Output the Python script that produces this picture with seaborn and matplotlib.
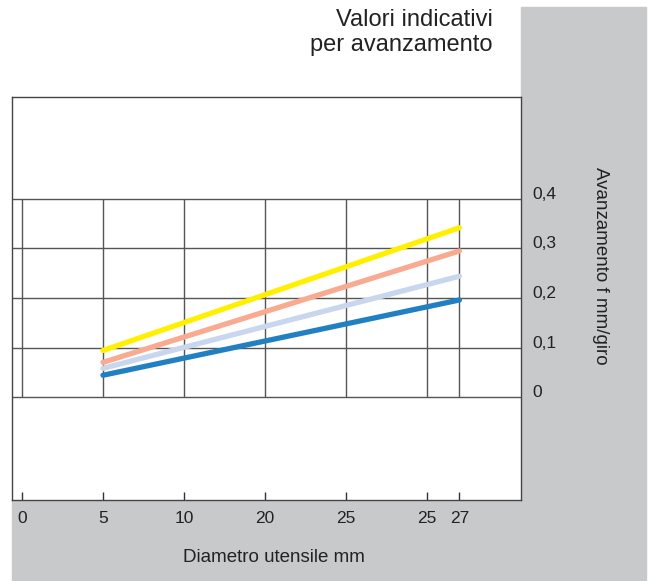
import matplotlib
matplotlib.use('Agg')
import matplotlib.pyplot as plt
import seaborn as sns
import pandas as pd
from matplotlib.patches import Rectangle

# tick labels along the diameter axis and their slot positions
x_labels = ['0', '5', '10', '20', '25', '25', '27']
x_slots = [0, 1, 2, 3, 4, 5, 5.4]
y_ticks = [0, 0.1, 0.2, 0.3, 0.4]
y_labels = ['0', '0,1', '0,2', '0,3', '0,4']

# feed lines: start (d=5) and end (d=27)
line_x = [1, 5.4]
yellow = [0.094, 0.342]
salmon = [0.070, 0.295]
light_blue = [0.058, 0.244]
blue = [0.044, 0.196]

series = {'giallo': yellow, 'salmone': salmon, 'azzurro': light_blue, 'blu': blue}
colors = {'giallo': '#FFF000', 'salmone': '#F8AB90', 'azzurro': '#C8D6EE', 'blu': '#2080C2'}

rows = []
for name, vals in series.items():
    for x, v in zip(line_x, vals):
        rows.append({'pos': x, 'f': v, 'serie': name})
df = pd.DataFrame(rows)

sns.set_style('white')
plt.rcParams['font.family'] = ['Liberation Sans', 'DejaVu Sans']

W, H = 658, 581
fig = plt.figure(figsize=(W / 100, H / 100), dpi=100)
grey = '#C8C9CB'
# grey side and bottom panels (behind everything)
fig.patches.append(Rectangle((521 / W, 1 - 580 / H), 125 / W, 573 / H,
                             transform=fig.transFigure, color=grey, zorder=-5))
fig.patches.append(Rectangle((12 / W, 1 - 580 / H), 509 / W, 80 / H,
                             transform=fig.transFigure, color=grey, zorder=-5))

ax = fig.add_axes([12 / W, 1 - 500 / H, 509 / W, 403 / H])
ax.set_facecolor('white')

gc = '#555555'
for y in y_ticks:
    ax.axhline(y, color=gc, lw=1.0, zorder=1)
ax.vlines(x_slots, 0, 0.4, color=gc, lw=1.0, zorder=1)

sns.lineplot(data=df, x='pos', y='f', hue='serie', palette=colors,
             linewidth=3.8, legend=False, ax=ax, zorder=3)

ax.set_xlim(-0.123, 6.16)
ax.set_ylim(-0.208, 0.606)
ax.set_xticks(x_slots)
ax.set_xticklabels(x_labels)
ax.tick_params(axis='x', bottom=True, direction='in', length=6, width=1, color='#333333',
               pad=8, labelsize=12.5, labelcolor='#222222')
ax.yaxis.tick_right()
ax.set_yticks(y_ticks)
ax.set_yticklabels(y_labels)
ax.tick_params(axis='y', length=0, pad=8, labelsize=12.5, labelcolor='#222222')
for lab in ax.get_yticklabels():
    lab.set_va('baseline')
for s in ax.spines.values():
    s.set_color('#444444')
    s.set_linewidth(1.0)
    s.set_visible(True)
ax.set_xlabel('')
ax.set_ylabel('')

fig.text(493 / W, 1 - 9 / H, 'Valori indicativi\nper avanzamento', ha='right', va='top',
         fontsize=17, color='#222222', linespacing=1.2)
fig.text(600 / W, 1 - 266 / H, 'Avanzamento f mm/giro', rotation=270, ha='center',
         va='center', fontsize=13.5, color='#222222')
fig.text(274 / W, 1 - 558 / H, 'Diametro utensile mm', ha='center', va='center',
         fontsize=13.5, color='#222222')

fig.savefig('out.png', dpi=100)
